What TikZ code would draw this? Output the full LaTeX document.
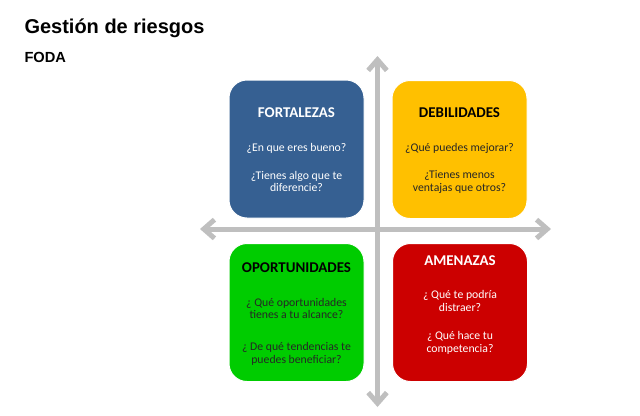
\documentclass[tikz,border=0pt]{standalone}
\usepackage{fontspec}
\setmainfont{Carlito}
\newfontfamily\arialfont{Liberation Sans}
\usetikzlibrary{arrows.meta}

\definecolor{azulfort}{RGB}{54,96,146}
\definecolor{amarillodeb}{RGB}{255,192,0}
\definecolor{verdeopor}{RGB}{0,204,0}
\definecolor{rojoamen}{RGB}{204,0,0}
\definecolor{grisejes}{RGB}{191,191,191}

\tikzset{every picture/.style={line width=0.75pt}}
\tikzset{
  cuadro/.style={rounded corners=13.5pt, minimum width=101.25pt, minimum height=103.5pt, inner sep=0pt, draw=white},
  eje/.style={line width=3.75pt, grisejes, -{Straight Barb[length=8pt,width=14pt,line width=3.75pt]}},
  titulo/.style={font=\fontsize{11.2}{13}\selectfont\bfseries, inner sep=0pt},
  pregunta/.style={font=\fontsize{8.8}{9.6}\selectfont, align=center, inner sep=0pt}
}

\begin{document}
\begin{tikzpicture}[x=0.75pt,y=0.75pt,yscale=-1,xscale=1]
\useasboundingbox (0,0) rectangle (640,415);

% Titles
\node (gestion) [anchor=west, inner sep=0pt, font=\arialfont\fontsize{15}{18}\selectfont\bfseries] at (24,28) {Gestión de riesgos};
\node (foda) [anchor=west, inner sep=0pt, font=\arialfont\fontsize{11}{13}\selectfont\bfseries] at (24,57) {FODA};

% Axes
\coordinate (ejearriba) at (377.5,56);
\coordinate (ejeabajo) at (377.5,407);
\coordinate (ejeizq) at (200,229);
\coordinate (ejeder) at (551,229);
\coordinate (centro) at (377.5,229);
\draw [eje] (centro) -- (ejearriba);
\draw [eje] (centro) -- (ejeabajo);
\draw [eje] (centro) -- (ejeizq);
\draw [eje] (centro) -- (ejeder);

% Boxes
\node (fortalezas) [cuadro, fill=azulfort] at (296.5,149) {};
\node (debilidades) [cuadro, fill=amarillodeb] at (459.5,149.5) {};
\node (oportunidades) [cuadro, fill=verdeopor] at (296.5,312.5) {};
\node (amenazas) [cuadro, fill=rojoamen] at (460,312.5) {};

% Text Node
\node (fortT) [titulo, white] at (296.5,113) {FORTALEZAS};
\node (fortA) [pregunta, white] at (296.5,148) {¿En que eres bueno?};
\node (fortB) [pregunta, white] at (296.5,181.5) {¿Tienes algo que te\\diferencie?};
% Text Node
\node (debT) [titulo, black] at (459.5,113) {DEBILIDADES};
\node (debA) [pregunta, black!85] at (459.5,148) {¿Qué puedes mejorar?};
\node (debB) [pregunta, black!85] at (459.5,182) {¿Tienes menos\\ventajas que otros?};
% Text Node
\node (oporT) [titulo, black] at (296.5,268) {OPORTUNIDADES};
\node (oporA) [pregunta, black!85] at (296.5,308.5) {¿ Qué oportunidades\\tienes a tu alcance?};
\node (oporB) [pregunta, black!85] at (296.5,353.5) {¿ De qué tendencias te\\puedes beneficiar?};
% Text Node
\node (amenT) [titulo, white] at (460,261) {AMENAZAS};
\node (amenA) [pregunta, white] at (460,301) {¿ Qué te podría\\distraer?};
\node (amenB) [pregunta, white] at (460,343) {¿ Qué hace tu\\competencia?};

\end{tikzpicture}
\end{document}
